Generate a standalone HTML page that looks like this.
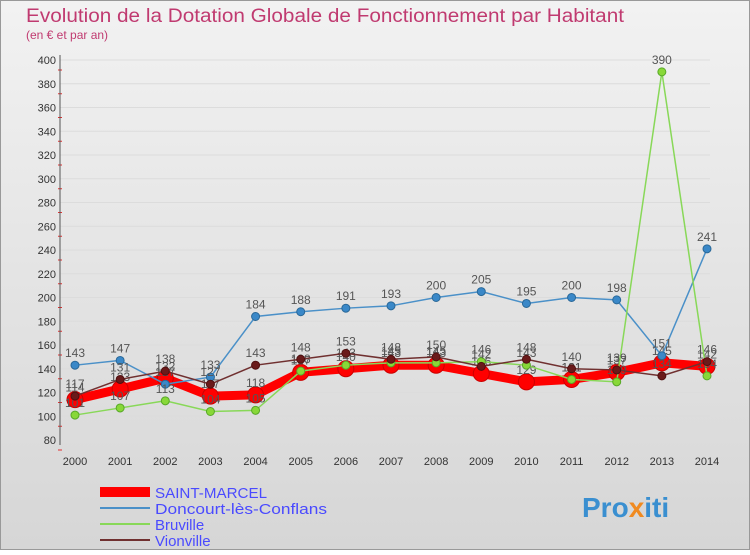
<!DOCTYPE html>
<html><head><meta charset="utf-8"><style>
body{margin:0;width:750px;height:550px;overflow:hidden;font-family:"Liberation Sans",sans-serif}
</style></head><body>
<svg width="750" height="550">
<defs><linearGradient id="bg" x1="0" y1="0" x2="0" y2="1"><stop offset="0" stop-color="#f2f2f2"/><stop offset="1" stop-color="#d6d6d6"/></linearGradient></defs>
<rect x="0.5" y="0.5" width="749" height="549" fill="url(#bg)" stroke="#999"/>
<text x="26" y="22" font-size="19" fill="#c03a70" textLength="598" lengthAdjust="spacingAndGlyphs">Evolution de la Dotation Globale de Fonctionnement par Habitant</text>
<text x="26" y="39" font-size="12" fill="#c03a70">(en € et par an)</text>
<g id="axes"></g><g id="series"></g>
<g>
<rect x="100" y="487" width="50" height="10" fill="#ff0000"/>
<text x="155" y="498" font-size="15" fill="#4a4aff" textLength="112" lengthAdjust="spacingAndGlyphs">SAINT-MARCEL</text>
<line x1="100" y1="508" x2="150" y2="508" stroke="#4a90c8" stroke-width="2"/>
<text x="155" y="514" font-size="15" fill="#4a4aff" textLength="172" lengthAdjust="spacingAndGlyphs">Doncourt-lès-Conflans</text>
<line x1="100" y1="524" x2="150" y2="524" stroke="#88d858" stroke-width="2"/>
<text x="155" y="530" font-size="15" fill="#4a4aff">Bruville</text>
<line x1="100" y1="540" x2="150" y2="540" stroke="#703030" stroke-width="2"/>
<text x="155" y="546" font-size="15" fill="#4a4aff">Vionville</text>
</g>
<text x="582" y="517" font-size="28" font-weight="bold" fill="#3a8fd0">Pro<tspan fill="#f08a20">x</tspan>iti</text>
</svg>
<script>
const years=[2000,2001,2002,2003,2004,2005,2006,2007,2008,2009,2010,2011,2012,2013,2014];
const yTicks=[80,100,120,140,160,180,200,220,240,260,280,300,320,340,360,380,400];
const saintMarcel=[114,123,132,117,118,137,140,143,143,136,129,131,137,145,142];
const doncourt=[143,147,127,133,184,188,191,193,200,205,195,200,198,151,241];
const bruville=[101,107,113,104,105,138,143,145,145,146,143,131,129,390,134];
const vionville=[117,131,138,127,143,148,153,148,150,142,148,140,139,134,146];
const NS="http://www.w3.org/2000/svg";
const x=i=>75+i*(707-75)/(years.length-1);
const y=v=>440-(v-80)*380/320;
function mk(t,a,p){const e=document.createElementNS(NS,t);for(const k in a)e.setAttribute(k,a[k]);p.appendChild(e);return e;}
const ax=document.getElementById('axes');
yTicks.forEach(v=>{
 const l=mk('line',{x1:60,x2:710,y1:y(v),y2:y(v),stroke:'#dcdcdc','stroke-width':1},ax);
 
 
 const t=mk('text',{x:56,y:y(v)+4,'font-size':11,'text-anchor':'end',fill:'#333'},ax);t.textContent=v;
 
 
 mk('line',{x1:58,x2:62,y1:y(v)+10,y2:y(v)+10,stroke:'#e03030'},ax);
});
years.forEach((yr,i)=>{
 const t=mk('text',{x:x(i),y:465,'font-size':11,'text-anchor':'middle',fill:'#333'},ax);t.textContent=yr;
 
 
});
const axl=mk('line',{x1:60,x2:60,y1:55,y2:445,stroke:'#555'},ax);


const sg=document.getElementById('series');
function draw(name,vals,col,w,r,fill,stroke){
 const g=mk('g',{},sg);
 
 
 const p=mk('polyline',{points:vals.map((v,i)=>x(i)+','+y(v)).join(' '),fill:'none',stroke:col,'stroke-width':w},g);
 
 
 vals.forEach((v,i)=>{
  const c=mk('circle',{cx:x(i),cy:y(v),r:r,fill:fill,stroke:stroke,'stroke-width':1},g);
  
  
  const t=mk('text',{x:x(i),y:y(v)-8,'font-size':12,'text-anchor':'middle',fill:'#555'},g);t.textContent=v;
  
  
 });
}
draw('saint-marcel',saintMarcel,'#ff0000',9,8,'#ff0000','#cc0000');
draw('doncourt',doncourt,'#4a90c8',1.5,4,'#3a88c8','#2a6898');
draw('bruville',bruville,'#88d858',1.5,4,'#88d838','#58a828');
draw('vionville',vionville,'#703030',1.5,4,'#6a1a1a','#501010');
</script>
</body></html>
